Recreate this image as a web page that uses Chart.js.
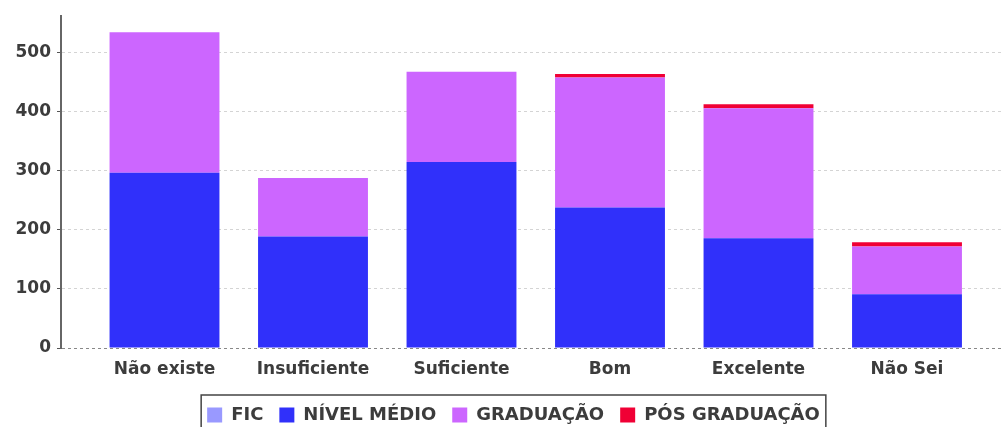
<!DOCTYPE html>
<html>
<head>
<meta charset="utf-8">
<script src="https://cdn.jsdelivr.net/npm/chart.js@4/dist/chart.umd.min.js"></script>
<style>
  html, body { margin: 0; padding: 0; background: #fff; overflow: hidden; }
  /* el lienzo es un poco mas alto: la leyenda queda cortada abajo como en el original */
  .chart-box { position: relative; width: 1001px; height: 434px; }
</style>
</head>
<body>
<div class="chart-box"><canvas id="chart"></canvas></div>
<script>
// Avaliação por categoria, empilhado por nível de formação
const categorias = ['Não existe', 'Insuficiente', 'Suficiente', 'Bom', 'Excelente', 'Não Sei']
const fic = [0, 0, 0, 0, 0, 0]
const nivelMedio = [297, 189, 315, 238, 186, 91]
const graduacao = [238, 99, 153, 220, 220, 81]
const posGraduacao = [0, 0, 0, 6, 7, 7]
const yTicks = [0, 100, 200, 300, 400, 500]
const yMax = 562

// margem extra do eixo de categorias (em fracao de categoria)
const margemEsq = 0.197
const margemDir = 0.133

const fonte = 'DejaVu Sans'

// leyenda un poco a la derecha del centro, con moldura, como en el original
const legendBorder = {
  id: 'legendBorder',
  afterLayout(chart) {
    const lg = chart.legend
    if (!lg) return
    lg.left += 13
    lg.right += 13
  },
  afterDraw(chart) {
    const lg = chart.legend
    if (!lg || !lg.legendHitBoxes.length) return
    const boxes = lg.legendHitBoxes
    const left = Math.min(...boxes.map((b) => b.left)) - 6
    const right = Math.max(...boxes.map((b) => b.left + b.width)) + 6
    const top = boxes[0].top - 11
    const c = chart.ctx
    c.save()
    c.strokeStyle = '#444'
    c.lineWidth = 1.5
    c.strokeRect(left, top, right - left, 60)
    c.restore()
  }
}

new Chart(document.getElementById('chart'), {
  type: 'bar',
  data: {
    labels: categorias,
    datasets: [
      { label: 'FIC', data: fic, backgroundColor: '#9999ff' },
      { label: 'NÍVEL MÉDIO', data: nivelMedio, backgroundColor: '#3030fa' },
      { label: 'GRADUAÇÃO', data: graduacao, backgroundColor: '#cc66ff' },
      { label: 'PÓS GRADUAÇÃO', data: posGraduacao, backgroundColor: '#f00035' }
    ]
  },
  options: {
    responsive: true,
    maintainAspectRatio: false,
    animation: false,
    layout: { padding: { top: 15, left: 0, right: 0, bottom: 0 } },
    datasets: { bar: { categoryPercentage: 1, barPercentage: 0.74, borderWidth: 0 } },
    scales: {
      x: {
        stacked: true,
        grid: { display: false, drawTicks: false },
        border: { display: false },
        ticks: { color: '#3c3c3c', padding: 11, font: { family: fonte, size: 17, weight: 'bold' } },
        afterBuildTicks: (scale) => {
          scale._startValue = -0.5 - margemEsq
          scale._valueRange = categorias.length + margemEsq + margemDir
        },
        afterFit: (scale) => { scale.height = 42 }
      },
      y: {
        stacked: true,
        min: 0,
        max: yMax,
        ticks: { stepSize: 100, color: '#3c3c3c', padding: 6, font: { family: fonte, size: 17, weight: 'bold' } },
        afterBuildTicks: (scale) => {
          scale.ticks = yTicks.map((v) => ({ value: v }))
        },
        afterFit: (scale) => { scale.width = 61 },
        grid: {
          color: (ctx) => (ctx.tick && ctx.tick.value === 0 ? '#888' : '#d4d4d4'),
          tickColor: '#555',
          tickLength: 4,
          tickBorderDash: []
        },
        border: { display: true, color: '#666', width: 2, dash: [3, 3] }
      }
    },
    plugins: {
      legend: {
        position: 'bottom',
        labels: {
          boxWidth: 15,
          boxHeight: 15,
          padding: 16,
          color: '#3c3c3c',
          font: { family: fonte, size: 18, weight: 'bold' }
        }
      },
      tooltip: { enabled: false }
    }
  },
  plugins: [legendBorder]
})
</script>
</body>
</html>
